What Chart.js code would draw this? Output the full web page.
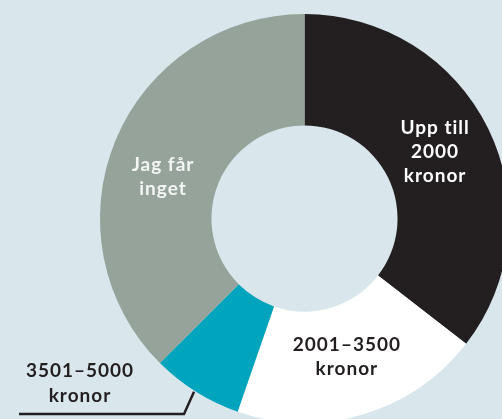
<!DOCTYPE html>
<html>
<head>
<meta charset="utf-8">
<script src="https://cdn.jsdelivr.net/npm/chart.js"></script>
<style>
    html, body { margin: 0; padding: 0; background: #d9e6ec; overflow: hidden; }
    #wrap { position: absolute; left: 0; top: 0; }
</style>
</head>
<body>
<div id="wrap"><canvas id="incomeChart" width="530" height="440"></canvas></div>
<script>
// categories (one line per array entry) and their shares in percent
const categories = [['Upp till', '2000', 'kronor'], ['2001–3500', 'kronor'], ['3501–5000', 'kronor'], ['Jag får', 'inget']];
const shares = [35.5, 19.8, 7.2, 37.5];
const sliceColors = ['#231f20', '#ffffff', '#00a4bd', '#95a39b'];
const textColors = ['#ffffff', '#231f20', '#231f20', '#f4f6f4'];

// small nudges so the text sits like in the original
const labelNudge = [[-3, -1], [0, -4], [0, 0], [-4, 15]];

const lineH = 24;
const font = 'bold 19px Lato, "DejaVu Sans", sans-serif';

// draws the labels on top of the slices, and the outside one with a leader line
const sliceLabels = {
    id: 'sliceLabels',
    afterDatasetsDraw(chart) {
        const ctx = chart.ctx;
        const arcs = chart.getDatasetMeta(0).data;
        ctx.save();
        ctx.font = font;
        ctx.letterSpacing = '1px';
        ctx.textAlign = 'center';
        ctx.textBaseline = 'middle';
        arcs.forEach(function (arc, i) {
            const lines = categories[i];
            ctx.fillStyle = textColors[i];
            if (i == 2) {
                // small slice: label goes outside, bottom left
                const mid = (arc.startAngle + arc.endAngle) / 2;
                const ox = arc.x + Math.cos(mid) * arc.outerRadius;
                const oy = arc.y + Math.sin(mid) * arc.outerRadius;
                ctx.strokeStyle = '#231f20';
                ctx.lineWidth = 2.5;
                ctx.beginPath();
                ctx.moveTo(ox - 2, oy);
                ctx.lineTo(ox - 12, 414);
                ctx.lineTo(19, 414);
                ctx.stroke();
                lines.forEach(function (t, k) {
                    ctx.fillText(t, 80, 371 + k * 25);
                });
                return;
            }
            const p = arc.tooltipPosition();
            const cx = p.x + labelNudge[i][0];
            const cy = p.y + labelNudge[i][1];
            const top = cy - (lines.length - 1) * lineH / 2;
            lines.forEach(function (t, k) {
                ctx.fillText(t, cx, top + k * lineH);
            });
        });
        ctx.restore();
    }
};

const ctx = document.getElementById('incomeChart').getContext('2d');
const incomeChart = new Chart(ctx, {
    type: 'doughnut',
    data: {
        labels: categories.map(function (l) { return l.join(' '); }),
        datasets: [{
            data: shares,
            backgroundColor: sliceColors,
            borderWidth: 0
        }]
    },
    options: {
        responsive: false,
        animation: false,
        events: [],
        cutout: '45.5%',
        layout: {
            padding: { left: 100, top: 14, right: 21, bottom: 17 }
        },
        plugins: {
            legend: { display: false },
            tooltip: { enabled: false }
        }
    },
    plugins: [sliceLabels]
});
</script>
</body>
</html>
